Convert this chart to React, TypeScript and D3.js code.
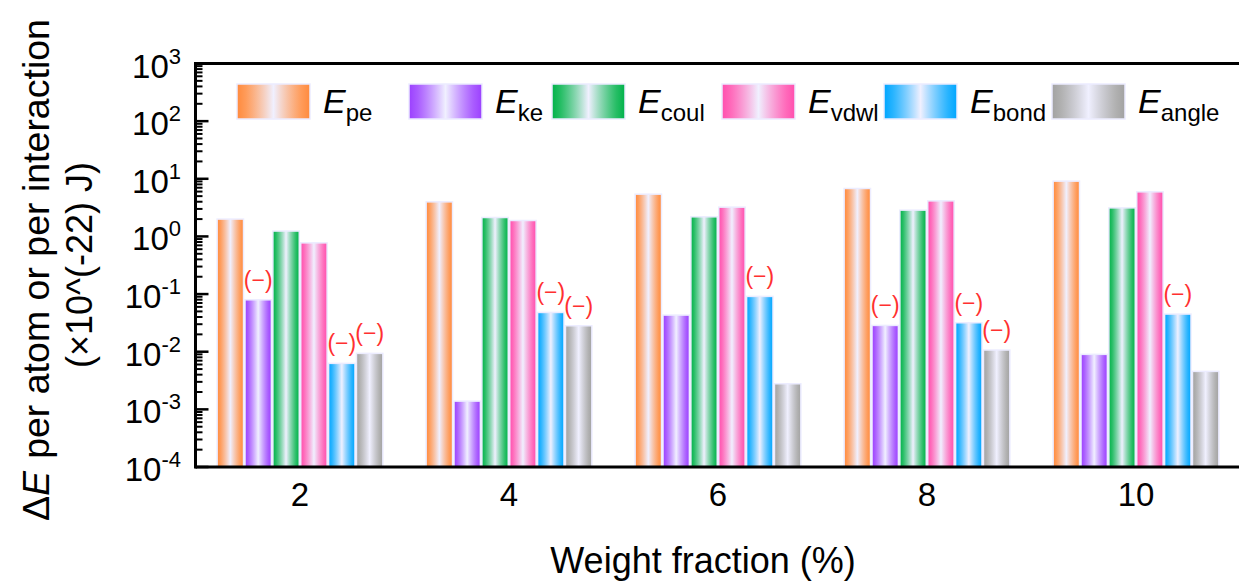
import React from "react";
import * as d3 from "d3";

// weight fraction groups
const fractions = ["2", "4", "6", "8", "10"];

// series (per atom / per interaction, x10^-22 J)
const seriesNames = ["pe", "ke", "coul", "vdwl", "bond", "angle"];
const ePe = [2.0, 3.98, 5.41, 6.79, 9.1];
const eKe = [0.0796, 0.00139, 0.0432, 0.0286, 0.009];
const eCoul = [1.24, 2.13, 2.19, 2.86, 3.13];
const eVdwl = [0.774, 1.89, 3.22, 4.14, 5.94];
const eBond = [0.00628, 0.048, 0.0911, 0.0318, 0.045];
const eAngle = [0.00936, 0.0282, 0.00278, 0.0107, 0.00456];

// bars marked "(−)" (negative change)
const negPe = [false, false, false, false, false];
const negKe = [true, false, false, true, false];
const negCoul = [false, false, false, false, false];
const negVdwl = [false, false, false, false, false];
const negBond = [true, true, true, true, true];
const negAngle = [true, true, false, true, false];

const yExponents = [-4, -3, -2, -1, 0, 1, 2, 3];

const colors = ["#ff8a3d", "#9b40ff", "#00b24a", "#ff4fae", "#00a6ff", "#a2a2a2"];
const legendX = [237, 409, 552, 722, 884, 1052];

const W = 1239;
const H = 584;
const margin = { top: 63.5, right: 0, bottom: 117, left: 195.5 };
const font = "'Liberation Sans', Arial, sans-serif";

const App = () => {
  const values = [ePe, eKe, eCoul, eVdwl, eBond, eAngle];
  const negs = [negPe, negKe, negCoul, negVdwl, negBond, negAngle];

  const x = d3.scaleBand()
    .domain(fractions)
    .range([margin.left, 1240.5])
    .paddingInner(0.2)
    .paddingOuter(0.1);
  const xs = d3.scaleBand()
    .domain(seriesNames)
    .range([0, x.bandwidth()]);
  const y = d3.scaleLog()
    .domain([1e-4, 1e3])
    .range([H - margin.bottom, margin.top]);

  const y0 = y(1e-4);

  // minor ticks 2..9 in each decade
  const minor: number[] = [];
  yExponents.slice(0, -1).forEach(e => {
    for (let k = 2; k <= 9; k++) minor.push(k * Math.pow(10, e));
  });

  return (
    <svg width={W} height={H} style={{ position: "absolute", left: 0, top: 0 }} fontFamily={font}>
      <defs>
        {colors.map((c, i) => (
          <linearGradient key={i} id={"g" + i} x1="0" x2="1" y1="0" y2="0">
            <stop offset="0%" stopColor={c} />
            <stop offset="12%" stopColor={c} stopOpacity={0.85} />
            <stop offset="50%" stopColor="#f0f0ff" />
            <stop offset="88%" stopColor={c} stopOpacity={0.85} />
            <stop offset="100%" stopColor={c} />
          </linearGradient>
        ))}
      </defs>

      {/* bars */}
      {fractions.map((f, gi) => (
        <g key={f} transform={`translate(${x(f)},0)`}>
          {seriesNames.map((s, si) => {
            const v = values[si][gi];
            const top = y(v);
            const bx = xs(s)!;
            return (
              <g key={s}>
                <rect x={bx + 0.75} y={top} width={xs.bandwidth() - 1.5} height={y0 - top}
                  fill={`url(#g${si})`} stroke="#ececff" strokeWidth={1.5} />
                {negs[si][gi] && (
                  <text x={bx + xs.bandwidth() / 2} y={top - 12} textAnchor="middle"
                    fontSize={23} fill="#ff3030">(−)</text>
                )}
              </g>
            );
          })}
        </g>
      ))}

      {/* frame */}
      <line x1={margin.left} x2={W} y1={margin.top} y2={margin.top} stroke="#000" strokeWidth={3} />
      <line x1={margin.left} x2={W} y1={y0} y2={y0} stroke="#000" strokeWidth={3} />
      <line x1={margin.left} x2={margin.left} y1={margin.top - 1.5} y2={y0 + 1.5} stroke="#000" strokeWidth={3} />

      {/* y ticks */}
      {minor.map((v, i) => (
        <line key={"m" + i} x1={margin.left} x2={margin.left + 7} y1={y(v)} y2={y(v)} stroke="#000" strokeWidth={2} />
      ))}
      {yExponents.map(e => (
        <g key={e}>
          <line x1={margin.left} x2={margin.left + 13} y1={y(Math.pow(10, e))} y2={y(Math.pow(10, e))}
            stroke="#000" strokeWidth={2.5} />
          <text x={181} y={y(Math.pow(10, e)) + 14} textAnchor="end" fontSize={33}>
            10<tspan fontSize={22} dy={-14}>{e}</tspan>
          </text>
        </g>
      ))}

      {/* x tick labels */}
      {fractions.map(f => (
        <text key={f} x={x(f)! + x.bandwidth() / 2} y={506} textAnchor="middle" fontSize={33}>{f}</text>
      ))}

      {/* axis titles */}
      <text x={703} y={573} textAnchor="middle" fontSize={36}>Weight fraction (%)</text>
      <text transform="translate(49,270) rotate(-90)" textAnchor="middle" fontSize={37.5}>
        Δ<tspan fontStyle="italic">E</tspan><tspan dx={12}>per atom or per interaction</tspan>
      </text>
      <text transform="translate(92,265) rotate(-90)" textAnchor="middle" fontSize={36}>
        (×10^(-22) J)
      </text>

      {/* legend */}
      {seriesNames.map((s, i) => (
        <g key={s}>
          <rect x={legendX[i]} y={84} width={73} height={35} fill={`url(#g${i})`} stroke="#ececff" strokeWidth={1.5} />
          <text x={legendX[i] + 86} y={113} fontSize={34}>
            <tspan fontStyle="italic">E</tspan>
            <tspan fontSize={24} dy={8}>{s}</tspan>
          </text>
        </g>
      ))}
    </svg>
  );
};

export default App;
